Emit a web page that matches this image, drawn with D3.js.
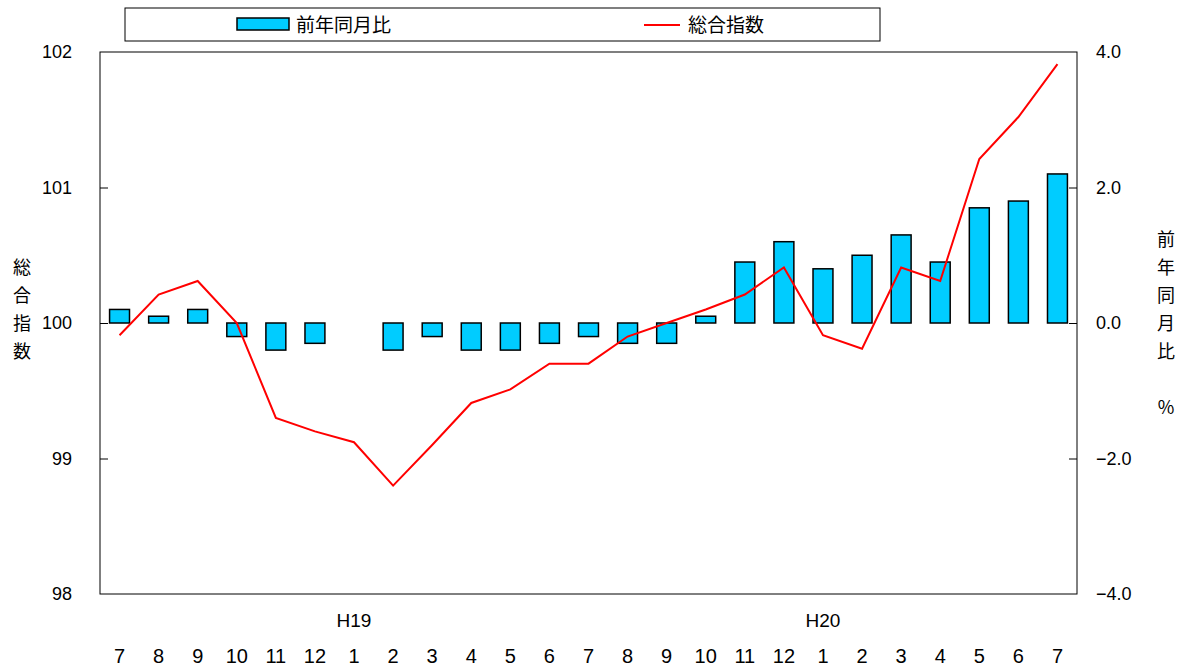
<!DOCTYPE html>
<meta charset="utf-8">
<script src="https://d3js.org/d3.v7.min.js"></script>
<style>
  body { margin: 0; background: #fff; }
  text { font-family: "Liberation Sans", "Noto Sans CJK JP", sans-serif; }
  .jp { font-family: "Noto Sans CJK JP", sans-serif; }
  .narrow { font-family: "Liberation Sans Narrow", "Liberation Sans", sans-serif; }
</style>
<div id="chart"></div>
<script>
  // months H19/7 .. H20/7
  var months = ["7","8","9","10","11","12","1","2","3","4","5","6","7","8","9","10","11","12","1","2","3","4","5","6","7"]
  var yoy = [0.2, 0.1, 0.2, -0.2, -0.4, -0.3, 0, -0.4, -0.2, -0.4, -0.4, -0.3, -0.2, -0.3, -0.3, 0.1, 0.9, 1.2, 0.8, 1.0, 1.3, 0.9, 1.7, 1.8, 2.2]
  var index = [99.91, 100.21, 100.31, 100.0, 99.3, 99.2, 99.12, 98.8, 99.1, 99.41, 99.51, 99.7, 99.7, 99.9, 100.0, 100.1, 100.21, 100.41, 99.91, 99.81, 100.41, 100.31, 101.21, 101.52, 101.91]
  var leftTicks = [98, 99, 100, 101, 102]
  var rightTicks = [-4, -2, 0, 2, 4]
  var eraLabels = [{ name: "H19", at: 6 }, { name: "H20", at: 18 }]

  var width = 1186, height = 668
  var mLeft = 100, mRight = 1077, mTop = 52, mBottom = 594

  var svg = d3.select("#chart").append("svg")
    .attr("width", width)
    .attr("height", height)

  var keys = months.map(function(d, i){ return i })

  var x = d3.scaleBand()
    .domain(keys)
    .range([mLeft, mRight])
    .paddingInner(0.49)
    .paddingOuter(0.245)

  var xc = function(i){ return x(i) + x.bandwidth() / 2 }

  var yL = d3.scaleLinear().domain([98, 102]).range([mBottom, mTop])
  var yR = d3.scaleLinear().domain([-4, 4]).range([mBottom, mTop])

  var barData = yoy.map(function(v, i){ return { i: i, v: v } })
    .filter(function(d){ return d.v !== 0 })

  // bars
  svg.append("g")
    .selectAll("rect")
    .data(barData)
    .enter()
    .append("rect")
      .attr("x", function(d){ return x(d.i) })
      .attr("width", x.bandwidth())
      .attr("y", function(d){ return yR(Math.max(0, d.v)) })
      .attr("height", function(d){ return Math.abs(yR(d.v) - yR(0)) })
      .style("fill", "#00CCFF")
      .style("stroke", "#000")
      .style("stroke-width", 1.5)

  // line
  var line = d3.line()
    .x(function(d, i){ return xc(i) })
    .y(function(d){ return yL(d) })

  svg.append("path")
    .datum(index)
    .attr("d", line)
    .style("fill", "none")
    .style("stroke", "#FF0000")
    .style("stroke-width", 2)

  // frame
  svg.append("rect")
    .attr("x", mLeft).attr("y", mTop)
    .attr("width", mRight - mLeft).attr("height", mBottom - mTop)
    .style("fill", "none").style("stroke", "#000").style("stroke-width", 1)

  // axes
  var axL = svg.append("g")
    .attr("transform", "translate(" + mLeft + ",0)")
    .call(d3.axisLeft(yL).tickValues(leftTicks).tickSize(-8).tickPadding(28).tickFormat(d3.format("d")))
  var axR = svg.append("g")
    .attr("transform", "translate(" + mRight + ",0)")
    .call(d3.axisRight(yR).tickValues(rightTicks).tickSize(-8).tickPadding(19).tickFormat(function(d){ return d3.format(".1f")(d) }))

  ;[axL, axR].forEach(function(a){
    a.select(".domain").remove()
    a.selectAll("text").attr("font-size", 18).attr("fill", "#000")
      .style("font-family", "'Liberation Sans', sans-serif")
    a.selectAll("line").attr("stroke", "#000")
  })
  axL.selectAll(".tick").filter(function(d){ return d === 98 || d === 102 }).select("line").remove()
  axR.selectAll(".tick").filter(function(d){ return d === -4 || d === 4 }).select("line").remove()

  // month labels
  svg.append("g")
    .selectAll("text")
    .data(months)
    .enter()
    .append("text")
      .attr("class", "narrow")
      .attr("x", function(d, i){ return xc(i) })
      .attr("y", 663)
      .attr("text-anchor", "middle")
      .attr("font-size", 20)
      .text(function(d){ return d })

  svg.append("g")
    .selectAll("text")
    .data(eraLabels)
    .enter()
    .append("text")
      .attr("class", "narrow")
      .attr("x", function(d){ return xc(d.at) })
      .attr("y", 627)
      .attr("text-anchor", "middle")
      .attr("font-size", 19)
      .text(function(d){ return d.name })

  // axis titles
  var leftTitle = ["総", "合", "指", "数"]
  svg.append("g").selectAll("text").data(leftTitle).enter().append("text")
    .attr("class", "jp")
    .attr("x", 22).attr("y", function(d, i){ return 274 + i * 28 })
    .attr("text-anchor", "middle").attr("font-size", 18)
    .text(function(d){ return d })

  var rightTitle = ["前", "年", "同", "月", "比", "", "%"]
  svg.append("g").selectAll("text").data(rightTitle).enter().append("text")
    .attr("class", "jp")
    .attr("x", 1166).attr("y", function(d, i){ return 246 + i * 28 })
    .attr("text-anchor", "middle").attr("font-size", 18)
    .text(function(d){ return d })

  // legend
  var lg = svg.append("g")
  lg.append("rect").attr("x", 125).attr("y", 8).attr("width", 755).attr("height", 33)
    .style("fill", "#fff").style("stroke", "#000").style("stroke-width", 1)
  lg.append("rect").attr("x", 237).attr("y", 18).attr("width", 52).attr("height", 12)
    .style("fill", "#00CCFF").style("stroke", "#000").style("stroke-width", 1.5)
  lg.append("text").attr("class", "jp").attr("x", 296).attr("y", 32).attr("font-size", 19).text("前年同月比")
  lg.append("line").attr("x1", 644).attr("x2", 680).attr("y1", 25).attr("y2", 25)
    .style("stroke", "#FF0000").style("stroke-width", 2)
  lg.append("text").attr("class", "jp").attr("x", 688).attr("y", 32).attr("font-size", 19).text("総合指数")
</script>
